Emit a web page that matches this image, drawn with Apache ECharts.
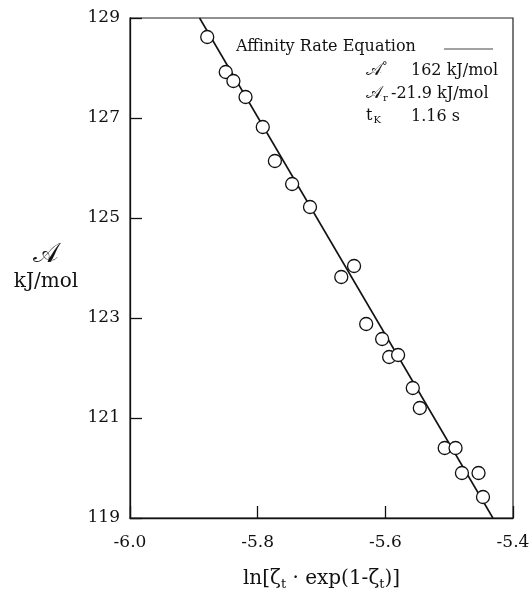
<!DOCTYPE html>
<html><head><meta charset="utf-8">
<script src="https://cdn.jsdelivr.net/npm/echarts@6/dist/echarts.min.js"></script>
<style>html,body{margin:0;padding:0;background:#fff}#c{width:529px;height:592px}</style>
</head><body><div id="c"></div>
<script>
// Measured data points: x = ln[ζt·exp(1-ζt)], y = affinity (kJ/mol)
const pointsX = [-5.879,-5.850,-5.838,-5.819,-5.792,-5.773,-5.746,-5.718,-5.669,-5.649,-5.630,-5.605,-5.594,-5.580,-5.557,-5.546,-5.507,-5.490,-5.480,-5.454,-5.447];
const pointsY = [128.62,127.92,127.74,127.42,126.82,126.14,125.68,125.22,123.82,124.04,122.88,122.58,122.22,122.26,121.60,121.20,120.40,120.40,119.90,119.90,119.42];
// Fitted Affinity Rate Equation line endpoints
const fitX = [-5.891, -5.4315];
const fitY = [129, 119];
const legendLabel = 'Affinity Rate Equation';
const params = [
  {sym: '{s|𝒜}{sup|°}', val: '162 kJ/mol', indent: 0},
  {sym: '{s|𝒜}{sub|r}', val: '-21.9 kJ/mol', indent: -20},
  {sym: '{t|t}{sub|K}', val: '1.16 s', indent: 0}
];
const xMin = -6.0, xMax = -5.4, xStep = 0.2;
const yMin = 119, yMax = 129, yStep = 2;

const FONT = '"DejaVu Serif", "Liberation Serif", serif';
const chart = echarts.init(document.getElementById('c'));
const scatterData = pointsX.map((x, i) => [x, pointsY[i]]);
const lineData = fitX.map((x, i) => [x, fitY[i]]);

const paramGraphics = [];
params.forEach((p, i) => {
  paramGraphics.push({
    type: 'text', left: 366, top: 62 + i * 23,
    style: {text: p.sym, fontFamily: FONT, fontSize: 16, fill: '#111',
      rich: {
        s: {fontFamily: FONT, fontSize: 17},
        t: {fontFamily: FONT, fontSize: 16},
        sup: {fontFamily: FONT, fontSize: 11, padding: [0,0,7,0]},
        sub: {fontFamily: FONT, fontSize: 10, padding: [9,0,0,1]}
      }}
  });
  paramGraphics.push({
    type: 'text', left: 411 + p.indent, top: 63 + i * 23,
    style: {text: p.val, fontFamily: FONT, fontSize: 16, fill: '#111'}
  });
});

chart.setOption({
  animation: false,
  backgroundColor: '#fff',
  grid: {left: 130, right: 16, top: 18, bottom: 74, outerBoundsMode: 'none', containLabel: false,
    show: true, borderColor: '#222', borderWidth: 1.2, backgroundColor: 'transparent'},
  xAxis: {
    type: 'value', min: xMin, max: xMax, interval: xStep,
    axisLine: {lineStyle: {color: '#111', width: 1.3}},
    axisTick: {inside: true, length: 12, lineStyle: {color: '#111', width: 1.3}},
    splitLine: {show: false},
    axisLabel: {margin: 16, fontFamily: FONT, fontSize: 17, color: '#111',
      formatter: v => v.toFixed(1),
      showMinLabel: true, showMaxLabel: true},
    name: 'ln[ζ{sub|t} · exp(1-ζ{sub|t})]',
    nameLocation: 'middle', nameGap: 49,
    nameTextStyle: {fontFamily: FONT, fontSize: 20, color: '#111',
      rich: {sub: {fontFamily: FONT, fontSize: 13, padding: [11,0,0,0], color: '#111'}}}
  },
  yAxis: {
    type: 'value', min: yMin, max: yMax, interval: yStep,
    axisLine: {lineStyle: {color: '#111', width: 1.3}},
    axisTick: {inside: true, length: 12, lineStyle: {color: '#111', width: 1.3}},
    splitLine: {show: false},
    axisLabel: {margin: 10, fontFamily: FONT, fontSize: 17, color: '#111',
      showMinLabel: true, showMaxLabel: true}
  },
  graphic: [
    {type: 'text', left: 236, top: 39, style: {text: legendLabel, fontFamily: FONT, fontSize: 16, fill: '#111'}},
    {type: 'line', shape: {x1: 444, y1: 49, x2: 493, y2: 49}, style: {stroke: '#444', lineWidth: 1}},
    ...paramGraphics,
    {type: 'text', x: 46, y: 255, style: {text: '𝒜', fontFamily: FONT, fontSize: 27, fill: '#111', textAlign: 'center', textVerticalAlign: 'middle'}},
    {type: 'text', x: 46, y: 282, style: {text: 'kJ/mol', fontFamily: FONT, fontSize: 20, fill: '#111', textAlign: 'center', textVerticalAlign: 'middle'}}
  ],
  series: [
    {type: 'line', name: legendLabel, data: lineData, symbol: 'none', z: 2,
      lineStyle: {color: '#111', width: 1.6}},
    {type: 'scatter', data: scatterData, symbol: 'circle', symbolSize: 13, z: 3,
      itemStyle: {color: '#fff', borderColor: '#111', borderWidth: 1.3, opacity: 1}}
  ]
});
</script></body></html>
